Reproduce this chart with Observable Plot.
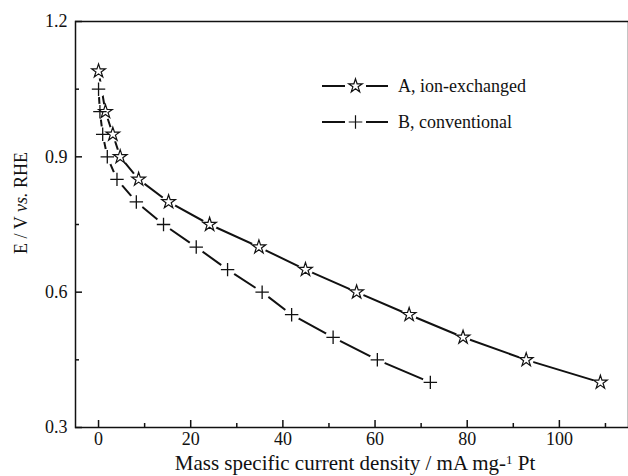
<!DOCTYPE html>
<html><head><meta charset="utf-8">
<script src="https://cdn.jsdelivr.net/npm/d3@7"></script>
<script src="https://cdn.jsdelivr.net/npm/@observablehq/plot@0.6"></script>
<style>
body{margin:0;background:#fff}
#chart{position:relative;width:628px;height:476px}
#chart svg text{font-family:"Liberation Serif","Times New Roman","DejaVu Serif",serif !important}
</style>
</head><body><div id="chart"></div>
<script>
const seriesNames = ["A, ion-exchanged", "B, conventional"];
const currentA = [0, 1.5, 3.1, 4.7, 8.7, 15.2, 24.1, 34.8, 44.9, 56.0, 67.4, 79.1, 92.8, 108.9];
const potentialA = [1.09, 1.00, 0.95, 0.90, 0.85, 0.80, 0.75, 0.70, 0.65, 0.60, 0.55, 0.50, 0.45, 0.40];
const currentB = [0, 0.3, 0.9, 1.9, 4.0, 8.2, 14.1, 21.2, 28.0, 35.5, 41.9, 50.9, 60.5, 72.0];
const potentialB = [1.05, 1.00, 0.95, 0.90, 0.85, 0.80, 0.75, 0.70, 0.65, 0.60, 0.55, 0.50, 0.45, 0.40];
const xMajorTicks = [0, 20, 40, 60, 80, 100];
const xMinorTicks = [10, 30, 50, 70, 90, 110];
const yMajorTicks = [0.3, 0.6, 0.9, 1.2];
const yMinorTicks = [0.45, 0.75, 1.05];
const yTickLabels = ["0.3", "0.6", "0.9", "1.2"];

const dataA = currentA.map((x, i) => ({x, y: potentialA[i]}));
const dataB = currentB.map((x, i) => ({x, y: potentialB[i]}));

const W = 628, H = 476;
const mL = 75, mT = 21, mR = 0, mB = 49;
const plotW = W - mL - mR, plotH = H - mT - mB;
const ink = "#111";
const serif = "'Liberation Serif', 'Times New Roman', 'DejaVu Serif', serif";

const chart = Plot.plot({
  width: W, height: H,
  marginLeft: mL, marginTop: mT, marginRight: mR, marginBottom: mB,
  style: {fontFamily: serif, fontSize: "18px", color: ink, background: "white"},
  x: {domain: [-5, 115], label: null},
  y: {domain: [0.3, 1.2], label: null},
  marks: [
    Plot.axisX({ticks: xMajorTicks, tickSize: 0, tickPadding: 5, label: null, fontSize: 18}),
    Plot.axisY({ticks: yMajorTicks, tickSize: 0, tickPadding: 8, label: null, fontSize: 18, tickFormat: (d, i) => yTickLabels[i]}),
    // inward ticks
    Plot.ruleX(xMajorTicks, {x: d => d, insetTop: plotH - 7, stroke: ink, strokeWidth: 1.5}),
    Plot.ruleX(xMinorTicks, {x: d => d, insetTop: plotH - 4, stroke: ink, strokeWidth: 1.5}),
    Plot.ruleY(yMajorTicks, {y: d => d, insetRight: plotW - 7, stroke: ink, strokeWidth: 1.5}),
    Plot.ruleY(yMinorTicks, {y: d => d, insetRight: plotW - 4, stroke: ink, strokeWidth: 1.5}),
    // lines
    Plot.line(dataA, {x: "x", y: "y", stroke: ink, strokeWidth: 2}),
    Plot.line(dataB, {x: "x", y: "y", stroke: ink, strokeWidth: 2}),
    // gaps around markers
    Plot.dot(dataA, {x: "x", y: "y", r: 7.5, fill: "white", stroke: "none"}),
    Plot.dot(dataB, {x: "x", y: "y", r: 8, fill: "white", stroke: "none"}),
    // markers
    Plot.dot(dataA, {x: "x", y: "y", symbol: "star", r: 4.3, fill: "white", stroke: ink, strokeWidth: 1.2}),
    Plot.dot(dataB, {x: "x", y: "y", symbol: "plus", r: 4.4, stroke: ink, strokeWidth: 1.3}),
    Plot.frame({stroke: ink, strokeWidth: 1.5})
  ]
});

const root = document.getElementById("chart");
root.appendChild(chart);

const svg = d3.select(chart);
// y axis title
const yl = svg.append("text")
  .attr("transform", "translate(21,203) rotate(-90)")
  .attr("text-anchor", "middle").attr("dominant-baseline", "central")
  .attr("font-size", 18).attr("fill", ink).attr("font-family", serif);
yl.append("tspan").text("E / V ");
yl.append("tspan").attr("font-style", "italic").text("vs.");
yl.append("tspan").text(" RHE");
// x axis title
const xl = svg.append("text")
  .attr("x", 355).attr("y", 470)
  .attr("text-anchor", "middle")
  .attr("font-size", 21).attr("fill", ink).attr("font-family", serif);
xl.append("tspan").text("Mass specific current density / mA mg-");
xl.append("tspan").attr("font-size", 13).attr("dy", -6).text("1");
xl.append("tspan").attr("dy", 6).text(" Pt");

// legend (inside plot area)
const lg = svg.append("g").attr("font-family", serif).attr("font-size", 18).attr("fill", ink).attr("text-anchor", "start");
const rows = [
  {name: seriesNames[0], y: 86, sym: d3.symbol(d3.symbolStar, 58)(), fill: "white"},
  {name: seriesNames[1], y: 122, sym: d3.symbol(d3.symbolPlus, 62)(), fill: "none"}
];
for (const r of rows) {
  lg.append("line").attr("x1", 322).attr("x2", 345).attr("y1", r.y).attr("y2", r.y).attr("stroke", ink).attr("stroke-width", 2);
  lg.append("line").attr("x1", 366).attr("x2", 388).attr("y1", r.y).attr("y2", r.y).attr("stroke", ink).attr("stroke-width", 2);
  lg.append("path").attr("d", r.sym).attr("transform", `translate(355.5,${r.y})`).attr("fill", r.fill).attr("stroke", ink).attr("stroke-width", 1.2);
  lg.append("text").attr("x", 398).attr("y", r.y).attr("dominant-baseline", "central").attr("text-anchor", "start").text(r.name);
}
</script>
</body></html>
